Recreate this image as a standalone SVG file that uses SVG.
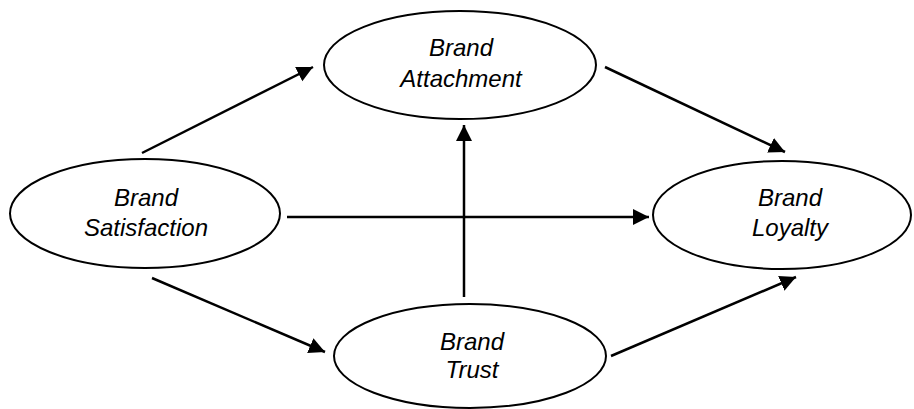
<svg xmlns="http://www.w3.org/2000/svg" width="914" height="409" viewBox="0 0 914 409">
<style>
.node ellipse{fill:#fff;stroke:#000;stroke-width:2}
.node text{font-family:"Liberation Sans",Arial,sans-serif;font-style:italic;font-size:24px;text-anchor:middle;fill:#000}
.edge{stroke:#000;stroke-width:2.5;fill:none;marker-end:url(#ah)}
</style>
<defs>
<marker id="ah" markerUnits="userSpaceOnUse" markerWidth="18" markerHeight="18" viewBox="0 0 18 18" refX="16" refY="9" orient="auto">
<path d="M0,1 L16,9 L0,17 Z" fill="#000"/>
</marker>
</defs>
<rect width="914" height="409" fill="#fff"/>
<g id="connectors">
<line class="edge" x1="142" y1="153" x2="313" y2="67"/>
<line class="edge" x1="605" y1="67" x2="785" y2="152"/>
<line class="edge" x1="287" y1="217" x2="649" y2="217"/>
<line class="edge" x1="464" y1="297" x2="464" y2="125"/>
<line class="edge" x1="152" y1="278" x2="325" y2="352"/>
<line class="edge" x1="611" y1="356" x2="796" y2="277"/>
</g>
<g id="satisfaction" class="node">
<ellipse cx="145" cy="213.5" rx="135" ry="54.5"/>
<text x="146" y="206">Brand</text>
<text x="146" y="236">Satisfaction</text>
</g>
<g id="attachment" class="node">
<ellipse cx="460" cy="65" rx="136" ry="54"/>
<text x="461" y="56">Brand</text>
<text x="461" y="87">Attachment</text>
</g>
<g id="loyalty" class="node">
<ellipse cx="782" cy="215" rx="129" ry="54"/>
<text x="790" y="206">Brand</text>
<text x="790" y="236">Loyalty</text>
</g>
<g id="trust" class="node">
<ellipse cx="470" cy="356" rx="136" ry="52"/>
<text x="472" y="350">Brand</text>
<text x="472" y="378">Trust</text>
</g>
</svg>
